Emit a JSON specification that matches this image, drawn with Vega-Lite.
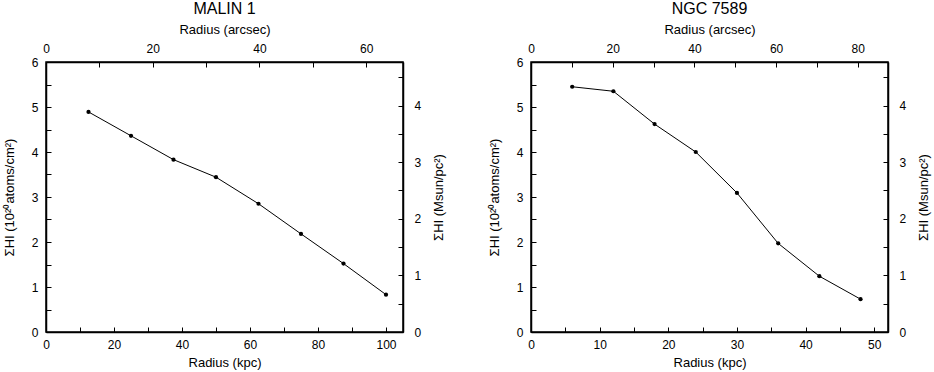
{
  "$schema": "https://vega.github.io/schema/vega-lite/v6.json",
  "padding": {"left": 2, "top": 0, "right": 2, "bottom": 0},
  "spacing": 40,
  "config": {
    "font": "Liberation Sans",
    "view": {"stroke": "black", "strokeWidth": 1.5},
    "axis": {
      "domainColor": "black", "domainWidth": 1.5,
      "tickColor": "black", "tickWidth": 1, "tickSize": -5,
      "labelColor": "black", "labelFontSize": 12, "labelPadding": 12,
      "titleColor": "black", "titleFontSize": 13, "titleFontWeight": "normal",
      "grid": false, "labelFlush": false, "labelOverlap": false
    },
    "axisLeft": {"labelPadding": 13, "titlePadding": 15},
    "axisRight": {"labelPadding": 16, "titlePadding": 12},
    "title": {"fontSize": 16, "fontWeight": "normal", "color": "black"}
  },
  "datasets": {
    "malin": [
      {"r": 12.5, "s": 4.89}, {"r": 25, "s": 4.36}, {"r": 37.5, "s": 3.83}, {"r": 50, "s": 3.44},
      {"r": 62.5, "s": 2.85}, {"r": 75, "s": 2.18}, {"r": 87.5, "s": 1.52}, {"r": 100, "s": 0.83}
    ],
    "ngc": [
      {"r": 6, "s": 5.45}, {"r": 12, "s": 5.35}, {"r": 18, "s": 4.62}, {"r": 24, "s": 4.0},
      {"r": 30, "s": 3.09}, {"r": 36, "s": 1.97}, {"r": 42, "s": 1.24}, {"r": 48, "s": 0.73}
    ],
    "dummy": [{"a": 0}]
  },
  "hconcat": [
    {
      "width": 357, "height": 270,
      "title": {"text": "MALIN 1", "offset": 6},
      "layer": [
        {
          "data": {"name": "malin"},
          "mark": {"type": "line", "color": "black", "strokeWidth": 1, "point": {"filled": true, "color": "black", "size": 18, "opacity": 1}},
          "encoding": {
            "x": {"field": "r", "type": "quantitative", "scale": {"domain": [0, 105], "nice": false, "zero": false},
              "axis": {"orient": "bottom", "title": "Radius (kpc)", "values": [0,10,20,30,40,50,60,70,80,90,100],
                "labelExpr": "datum.value % 20 === 0 ? format(datum.value, 'd') : ''", "titlePadding": 6}},
            "y": {"field": "s", "type": "quantitative", "scale": {"domain": [0, 6], "nice": false},
              "axis": {"orient": "left", "title": "ΣHI (10²⁰atoms/cm²)", "values": [0,0.5,1,1.5,2,2.5,3,3.5,4,4.5,5,5.5,6],
                "labelExpr": "datum.value % 1 === 0 ? format(datum.value, 'd') : ''"}}
          }
        },
        {
          "data": {"name": "dummy"},
          "mark": {"type": "point", "opacity": 0},
          "encoding": {
            "x": {"field": "a", "type": "quantitative", "scale": {"domain": [0, 66.9], "nice": false, "zero": false},
              "axis": {"orient": "top", "title": "Radius (arcsec)", "values": [0,10,20,30,40,50,60],
                "labelExpr": "datum.value % 20 === 0 ? format(datum.value, 'd') : ''", "titlePadding": 6}},
            "y": {"field": "a", "type": "quantitative", "scale": {"domain": [0, 4.77], "nice": false},
              "axis": {"orient": "right", "title": "ΣHI (Msun/pc²)", "titleAngle": 270, "titleBaseline": "top", "values": [0,0.5,1,1.5,2,2.5,3,3.5,4,4.5],
                "labelExpr": "datum.value % 1 === 0 ? format(datum.value, 'd') : ''"}}
          }
        }
      ],
      "resolve": {"scale": {"x": "independent", "y": "independent"}}
    },
    {
      "width": 357, "height": 270,
      "title": {"text": "NGC 7589", "offset": 6},
      "layer": [
        {
          "data": {"name": "ngc"},
          "mark": {"type": "line", "color": "black", "strokeWidth": 1, "point": {"filled": true, "color": "black", "size": 18, "opacity": 1}},
          "encoding": {
            "x": {"field": "r", "type": "quantitative", "scale": {"domain": [0, 52], "nice": false, "zero": false},
              "axis": {"orient": "bottom", "title": "Radius (kpc)", "values": [0,5,10,15,20,25,30,35,40,45,50],
                "labelExpr": "datum.value % 10 === 0 ? format(datum.value, 'd') : ''", "titlePadding": 6}},
            "y": {"field": "s", "type": "quantitative", "scale": {"domain": [0, 6], "nice": false},
              "axis": {"orient": "left", "title": "ΣHI (10²⁰atoms/cm²)", "values": [0,0.5,1,1.5,2,2.5,3,3.5,4,4.5,5,5.5,6],
                "labelExpr": "datum.value % 1 === 0 ? format(datum.value, 'd') : ''"}}
          }
        },
        {
          "data": {"name": "dummy"},
          "mark": {"type": "point", "opacity": 0},
          "encoding": {
            "x": {"field": "a", "type": "quantitative", "scale": {"domain": [0, 87.4], "nice": false, "zero": false},
              "axis": {"orient": "top", "title": "Radius (arcsec)", "values": [0,10,20,30,40,50,60,70,80],
                "labelExpr": "datum.value % 20 === 0 ? format(datum.value, 'd') : ''", "titlePadding": 6}},
            "y": {"field": "a", "type": "quantitative", "scale": {"domain": [0, 4.77], "nice": false},
              "axis": {"orient": "right", "title": "ΣHI (Msun/pc²)", "titleAngle": 270, "titleBaseline": "top", "values": [0,0.5,1,1.5,2,2.5,3,3.5,4,4.5],
                "labelExpr": "datum.value % 1 === 0 ? format(datum.value, 'd') : ''"}}
          }
        }
      ],
      "resolve": {"scale": {"x": "independent", "y": "independent"}}
    }
  ]
}
